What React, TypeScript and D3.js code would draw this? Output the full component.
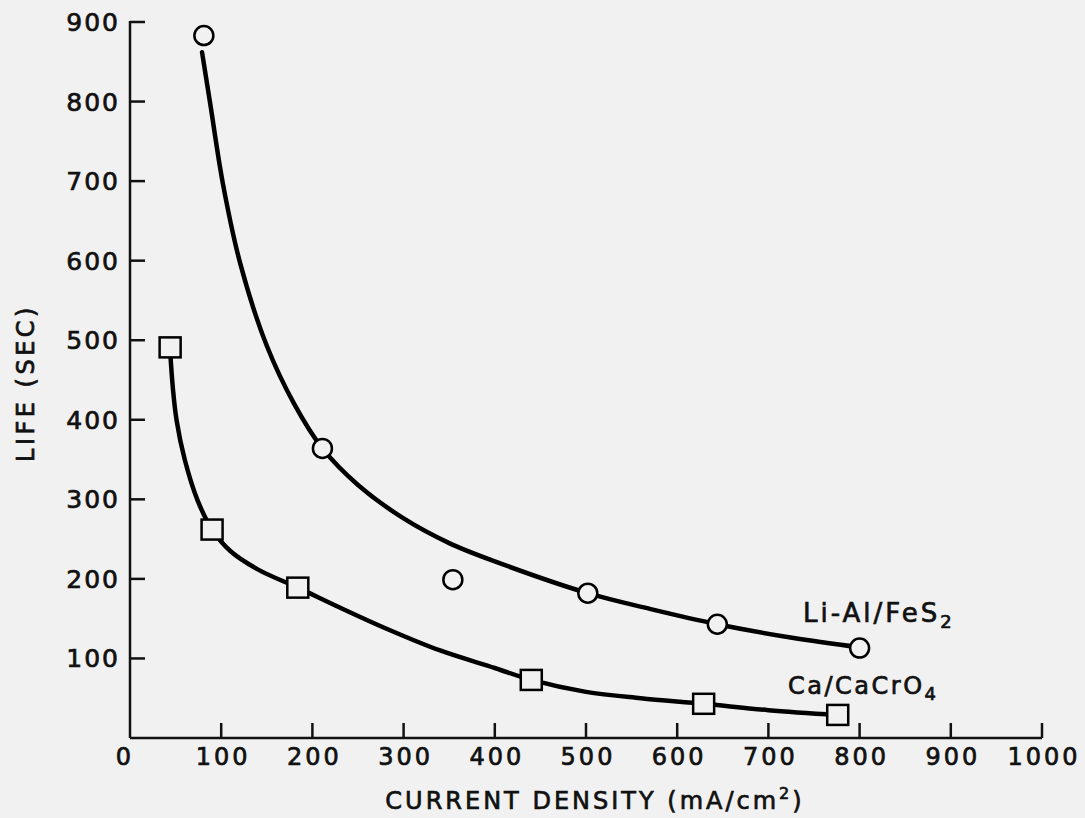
import * as d3 from "d3";

// markers (x: mA/cm2, y: seconds)
const liAlX = [81, 211, 354, 502, 644, 800];
const liAlY = [883, 364, 199, 182, 143, 113];
const caX = [44, 90, 184, 440, 629, 776];
const caY = [491, 262, 189, 73, 43, 29];

// hand-drawn fitted curves
const liAlCurveX = [79, 88, 102, 121, 150, 180, 211, 250, 300, 350, 400, 502, 571, 644, 726, 800];
const liAlCurveY = [862, 797, 696, 596, 493, 420, 364, 318, 276, 245, 222, 182, 162, 143, 126, 114];
const caCurveX = [44, 47, 51, 60, 74, 90, 110, 140, 184, 230, 280, 340, 400, 440, 500, 560, 629, 700, 776];
const caCurveY = [487, 440, 400, 350, 299, 262, 235, 212, 189, 164, 138, 110, 88, 73, 58, 50, 43, 35, 29];

const xTicks = [100, 200, 300, 400, 500, 600, 700, 800, 900, 1000];
const yTicks = [100, 200, 300, 400, 500, 600, 700, 800, 900];

const W = 1085;
const H = 818;
const BG = "#f1f1f1";
const INK = "#111";
const FONT = "'DejaVu Sans', Verdana, sans-serif";

const App = () => {
  const x = d3.scaleLinear().domain([0, 1000]).range([130, 1042]);
  const y = d3.scaleLinear().domain([0, 900]).range([738, 22]);

  const line = d3
    .line<[number, number]>()
    .x((d) => x(d[0]))
    .y((d) => y(d[1]))
    .curve(d3.curveCatmullRom.alpha(0.5));

  const liPath = line(liAlCurveX.map((v, i) => [v, liAlCurveY[i]]));
  const caPath = line(caCurveX.map((v, i) => [v, caCurveY[i]]));

  const textStroke = { stroke: INK, strokeWidth: 0.7 };

  return (
    <svg
      width={W}
      height={H}
      viewBox={`0 0 ${W} ${H}`}
      style={{ position: "absolute", left: 0, top: 0 }}
      fontFamily={FONT}
    >
      <rect x={0} y={0} width={W} height={H} fill={BG} />

      {/* axes */}
      <g stroke={INK} strokeWidth={2.5} fill="none">
        <line x1={x(0)} y1={y(900) - 1} x2={x(0)} y2={y(0)} />
        <line x1={x(0)} y1={y(0)} x2={x(1000)} y2={y(0)} />
        {yTicks.map((t) => (
          <line key={"yt" + t} x1={x(0)} x2={x(0) + 15} y1={y(t)} y2={y(t)} />
        ))}
        {xTicks.map((t) => (
          <line key={"xt" + t} x1={x(t)} x2={x(t)} y1={y(0)} y2={y(0) - 15} />
        ))}
      </g>

      {/* tick labels */}
      <g fill={INK} fontSize={25} letterSpacing={2} {...textStroke}>
        {yTicks.map((t) => (
          <text key={"yl" + t} x={x(0) - 10} y={y(t) + 9} textAnchor="end">
            {t}
          </text>
        ))}
      </g>
      <g fill={INK} fontSize={24} letterSpacing={3} {...textStroke}>
        <text x={x(0) - 5} y={765} textAnchor="middle">
          0
        </text>
        {xTicks.map((t) => (
          <text key={"xl" + t} x={x(t) + 2} y={765} textAnchor="middle">
            {t}
          </text>
        ))}
      </g>

      {/* axis titles */}
      <text
        x={595}
        y={809}
        textAnchor="middle"
        fontSize={24}
        letterSpacing={3}
        fill={INK}
        {...textStroke}
      >
        CURRENT DENSITY (mA/cm
        <tspan dy={-10} fontSize={16}>
          2
        </tspan>
        <tspan dy={10}>)</tspan>
      </text>
      <text
        transform="translate(34,383) rotate(-90)"
        textAnchor="middle"
        fontSize={24}
        letterSpacing={3.5}
        fill={INK}
        {...textStroke}
      >
        LIFE (SEC)
      </text>

      {/* curves */}
      <path d={liPath ?? ""} fill="none" stroke="#000" strokeWidth={4.5} strokeLinecap="round" />
      <path d={caPath ?? ""} fill="none" stroke="#000" strokeWidth={4.5} strokeLinecap="round" />

      {/* markers */}
      {liAlX.map((v, i) => (
        <circle
          key={"c" + i}
          cx={x(v)}
          cy={y(liAlY[i])}
          r={9.5}
          fill={BG}
          stroke="#000"
          strokeWidth={2.5}
        />
      ))}
      {caX.map((v, i) => (
        <rect
          key={"s" + i}
          x={x(v) - 10.5}
          y={y(caY[i]) - 10}
          width={21}
          height={20}
          fill={BG}
          stroke="#000"
          strokeWidth={2.5}
        />
      ))}

      {/* series labels */}
      <text x={803} y={622} fontSize={26} letterSpacing={3} fill={INK} {...textStroke}>
        Li-Al/FeS
        <tspan dy={6} fontSize={18}>
          2
        </tspan>
      </text>
      <text x={788} y={694} fontSize={24} letterSpacing={2.5} fill={INK} {...textStroke}>
        Ca/CaCrO
        <tspan dy={6} fontSize={18}>
          4
        </tspan>
      </text>
    </svg>
  );
};

export default App;
